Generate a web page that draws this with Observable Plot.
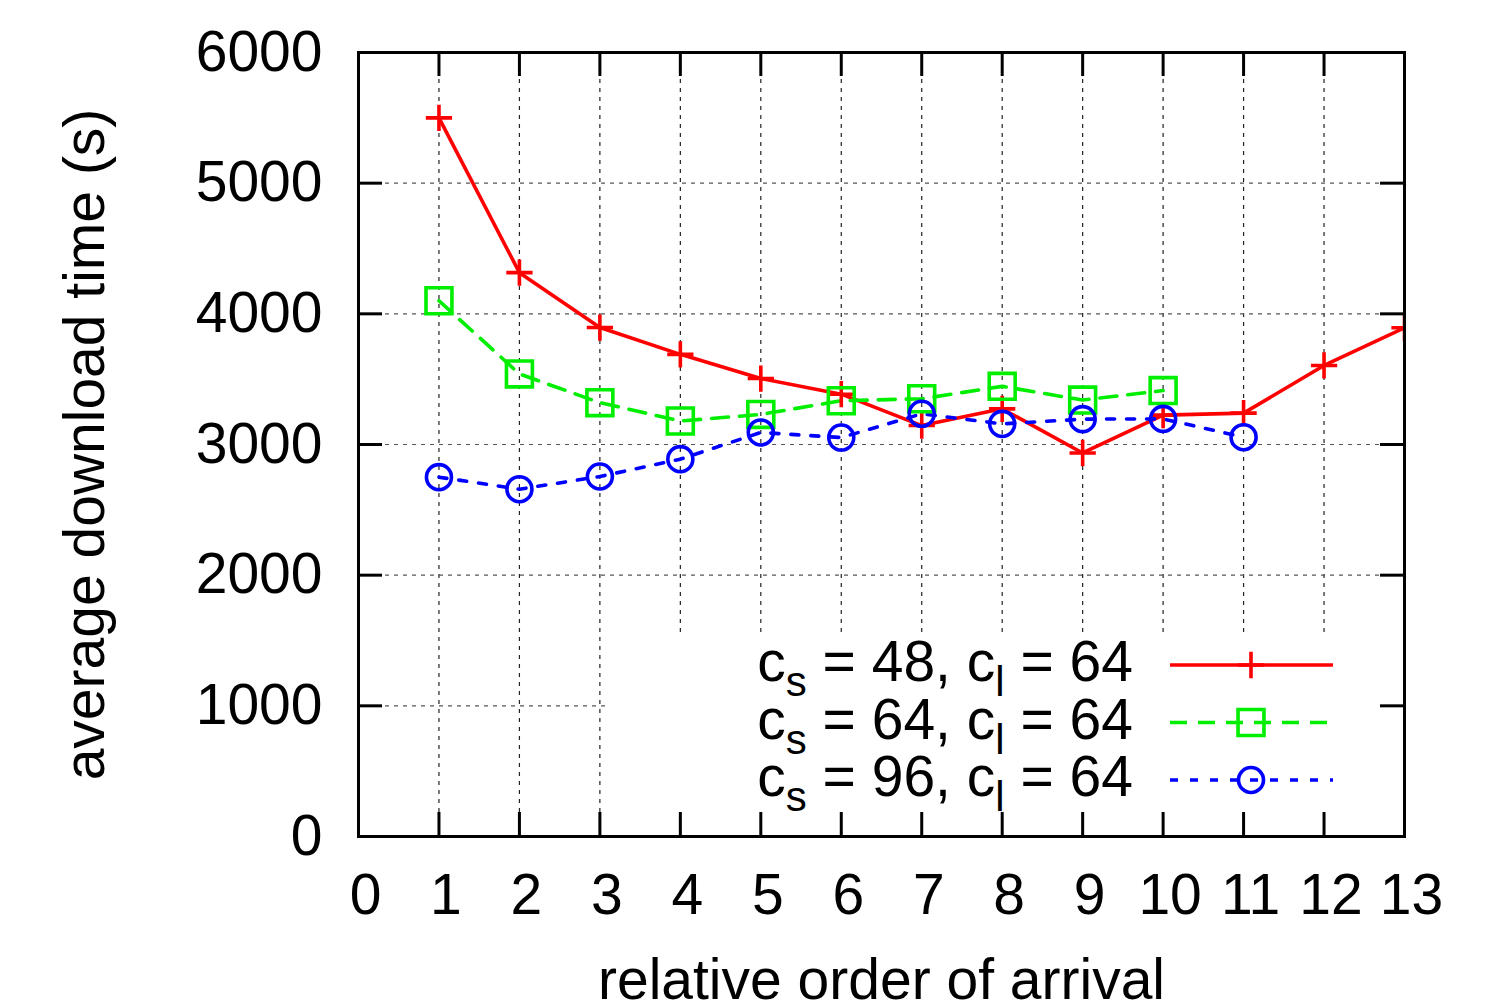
<!DOCTYPE html>
<html><head><meta charset="utf-8">
<script src="https://cdn.jsdelivr.net/npm/d3@7"></script>
<script src="https://cdn.jsdelivr.net/npm/@observablehq/plot@0.6"></script>
<style>body{margin:0;background:#fff;} svg{display:block}</style>
</head><body><div id="chart"></div>
<script>
// ---- data ----
const arrival = [1, 2, 3, 4, 5, 6, 7, 8, 9, 10, 11, 12, 13];
const cs48 = [5500, 4315, 3895, 3690, 3505, 3385, 3145, 3273, 2935, 3225, 3240, 3605, 3893];
const cs64 = [4100, 3540, 3320, 3180, 3230, 3335, 3350, 3445, 3340, 3413];
const cs96 = [2750, 2658, 2755, 2888, 3092, 3053, 3235, 3158, 3194, 3196, 3056];
const csValues = ["48", "64", "96"];
const clValue = "64";
const xTicks = [0, 1, 2, 3, 4, 5, 6, 7, 8, 9, 10, 11, 12, 13];
const yTicks = [0, 1000, 2000, 3000, 4000, 5000, 6000];
const xLabel = "relative order of arrival";
const yLabel = "average download time (s)";

// ---- layout / style ----
const W = 1496, H = 1008;
const mL = 358, mR = 92, mT = 52, mB = 172;
const pw = W - mL - mR, ph = H - mT - mB;
const FONT = "'Liberation Sans', Arial, Helvetica, sans-serif";
const FS = 57;
const LW = 3.6;
const styles = [
  {color: "#ff0000", dash: null, symbol: "plus", r: 8.5},
  {color: "#00ee00", dash: "17,11", symbol: "square2", r: 16.5},
  {color: "#0000ff", dash: "8,12", symbol: "circle", r: 12.5}
];
const seriesValues = [cs48, cs64, cs96];
const series = seriesValues.map((vals, k) => vals.map((v, i) => ({x: arrival[i], y: v, k})));

const marks = [
  Plot.ruleX(xTicks.slice(1, -1), {x: d => d, stroke: "#222", strokeWidth: 1.2, strokeDasharray: "4,5"}),
  Plot.ruleY(yTicks.slice(1, -1), {y: d => d, stroke: "#555", strokeWidth: 1.2, strokeDasharray: "4,5"}),
];
series.forEach((rows, k) => {
  const s = styles[k];
  marks.push(Plot.line(rows, {x: "x", y: "y", stroke: s.color, strokeWidth: LW, strokeDasharray: s.dash, clip: true}));
});
series.forEach((rows, k) => {
  const s = styles[k];
  marks.push(Plot.dot(rows, {x: "x", y: "y", stroke: s.color, fill: "none", strokeWidth: LW, symbol: s.symbol, r: s.r, clip: true}));
});
marks.push(
  Plot.frame({stroke: "#000", strokeWidth: 3}),
  Plot.ruleX(xTicks, {x: d => d, insetTop: ph - 24, stroke: "#000", strokeWidth: 3}),
  Plot.ruleX(xTicks, {x: d => d, insetBottom: ph - 24, stroke: "#000", strokeWidth: 3}),
  Plot.ruleY(yTicks, {y: d => d, insetRight: pw - 24, stroke: "#000", strokeWidth: 3}),
  Plot.ruleY(yTicks, {y: d => d, insetLeft: pw - 24, stroke: "#000", strokeWidth: 3}),
  Plot.axisX({ticks: xTicks, tickSize: 0, tickPadding: 37, dx: 7, tickFormat: d => `${d}`, label: null, fontSize: FS}),
  Plot.axisY({ticks: yTicks, tickSize: 0, tickPadding: 36, tickFormat: d => `${d}`, label: null, fontSize: FS}),
  Plot.text([xLabel], {text: d => d, frameAnchor: "bottom", dy: 162, lineAnchor: "bottom", fontSize: FS, fill: "#000"}),
  Plot.text([yLabel], {text: d => d, frameAnchor: "left", dx: 103 - mL, rotate: -90, lineAnchor: "bottom", textAnchor: "middle", fontSize: FS, fill: "#000"})
);

const chart = Plot.plot({
  width: W, height: H,
  marginLeft: mL, marginRight: mR, marginTop: mT, marginBottom: mB,
  x: {domain: [0, 13]},
  y: {domain: [0, 6000]},
  style: {fontFamily: FONT, fontSize: FS + "px", color: "#000", background: "#fff", overflow: "visible"},
  marks
});
document.getElementById("chart").appendChild(chart);

// ---- legend (white box hiding grid, then entries) ----
const svg = d3.select(chart);
const rules = chart.querySelectorAll('g[aria-label="rule"]');
const gridY = rules[1];
const box = document.createElementNS("http://www.w3.org/2000/svg", "rect");
box.setAttribute("x", 610); box.setAttribute("y", 637);
box.setAttribute("width", W - mR - 610); box.setAttribute("height", H - mB - 637);
box.setAttribute("fill", "#fff");
gridY.parentNode.insertBefore(box, gridY.nextSibling);

const leg = svg.append("g").attr("font-family", FONT).attr("fill", "#000");
const symMap = {plus: d3.symbolPlus, square2: d3.symbolSquare2, circle: d3.symbolCircle};
csValues.forEach((cs, k) => {
  const s = styles[k];
  const yb = 681 + k * 57.5;
  const yl = 665 + k * 57.5;
  const t = leg.append("text").attr("x", 1133).attr("y", yb).attr("text-anchor", "end").attr("font-size", FS);
  t.append("tspan").text("c");
  t.append("tspan").attr("font-size", 42).attr("dy", 15).text("s");
  t.append("tspan").attr("dy", -15).text(` = ${cs}, c`);
  t.append("tspan").attr("font-size", 42).attr("dy", 15).text("l");
  t.append("tspan").attr("dy", -15).text(` = ${clValue}`);
  leg.append("line").attr("x1", 1170).attr("x2", 1333).attr("y1", yl).attr("y2", yl)
    .attr("stroke", s.color).attr("stroke-width", LW).attr("stroke-dasharray", s.dash);
  leg.append("path").attr("transform", `translate(1251,${yl})`)
    .attr("d", d3.symbol(symMap[s.symbol], Math.PI * s.r * s.r)())
    .attr("fill", "none").attr("stroke", s.color).attr("stroke-width", LW);
});
</script>
</body></html>
